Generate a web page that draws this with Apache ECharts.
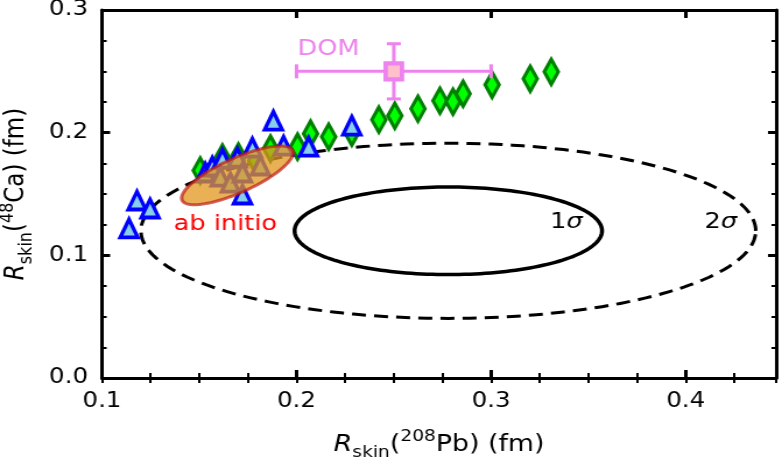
<!DOCTYPE html>
<html>
<head>
<meta charset="utf-8">
<script src="https://cdn.jsdelivr.net/npm/echarts@6/dist/echarts.min.js"></script>
<style>
  html, body { margin: 0; padding: 0; background: #fff; overflow: hidden; }
  /* the reference figure is stretched horizontally, so draw narrower and stretch */
  #chart { width: 671px; height: 460px; transform: scaleX(1.1654); transform-origin: 0 0; }
</style>
</head>
<body>
<div id="chart"></div>
<script>
// diamonds (green) : [Rskin(208Pb), Rskin(48Ca)]
const diamondPoints = [
  [0.1505, 0.1691], [0.1619, 0.1797], [0.1701, 0.1805], [0.1789, 0.1772],
  [0.1866, 0.1870], [0.2005, 0.1886], [0.2072, 0.1992], [0.2165, 0.1967],
  [0.2284, 0.2000], [0.2423, 0.2106], [0.2505, 0.2138], [0.2624, 0.2195],
  [0.2737, 0.2260], [0.2804, 0.2252], [0.2856, 0.2317], [0.3005, 0.2390],
  [0.3201, 0.2439], [0.3309, 0.2496]
];
// triangles (blue)
const trianglePoints = [
  [0.1139, 0.1220], [0.1180, 0.1447], [0.1247, 0.1382], [0.1531, 0.1675],
  [0.1567, 0.1724], [0.1619, 0.1789], [0.1608, 0.1642], [0.1660, 0.1593],
  [0.1696, 0.1797], [0.1722, 0.1675], [0.1722, 0.1496], [0.1773, 0.1878],
  [0.1814, 0.1732], [0.1881, 0.2098], [0.1933, 0.1894], [0.2062, 0.1886],
  [0.2284, 0.2057]
];
// DOM point: x, y, xerr, yerr
const domPoint = [[0.25, 0.25, 0.05, 0.0225]];
// ellipses: center x, center y, semi-diameter u (x, y), conjugate v (x, y)
const sigma1 = [[0.278, 0.12, 0.079, 0, 0, 0.0357]];
const sigma2 = [[0.278, 0.12, 0.158, 0, 0, 0.0714]];
const abInitio = [[0.1696, 0.1652, 0.0284, 0.0203, -0.0037, 0.0127]];
// text annotations: x, y, text
const notes = [
  [0.2005, 0.268, 'DOM'],
  [0.1634, 0.125, 'ab initio'],
  [0.3387, 0.1268, '1{s|σ}'],
  [0.418, 0.1268, '2{s|σ}']
];
const xTicks = [0.1, 0.2, 0.3, 0.4];
const yTicks = [0.0, 0.1, 0.2, 0.3];

const FONT = 'DejaVu Sans';
const TXT = 22;
const xMin = 0.1, xMax = 0.4465, yMin = 0, yMax = 0.3;

function ellipseRenderer(style) {
  return function (params, api) {
    const cx = api.value(0), cy = api.value(1);
    const ux = api.value(2), uy = api.value(3), vx = api.value(4), vy = api.value(5);
    const pts = [];
    for (let k = 0; k < 180; k++) {
      const t = 2 * Math.PI * k / 180;
      pts.push(api.coord([cx + ux * Math.cos(t) + vx * Math.sin(t),
                          cy + uy * Math.cos(t) + vy * Math.sin(t)]));
    }
    return { type: 'polygon', shape: { points: pts }, style: style };
  };
}

const noteStyles = {
  'DOM': { fill: '#ee82ee', align: 'left' },
  'ab initio': { fill: '#ff0000', align: 'center' }
};

const nameRich = {
  i: { fontStyle: 'italic', fontSize: 23, lineHeight: 32 },
  n: { fontSize: 23, lineHeight: 32 },
  sub: { fontSize: 16, verticalAlign: 'bottom' },
  sup: { fontSize: 16, verticalAlign: 'top' }
};

const majorX = (pos) => ({
  type: 'value', position: pos, min: xMin, max: xMax, interval: 0.1,
  axisLine: { show: true, onZero: false, lineStyle: { color: '#000', width: 3 } },
  axisTick: { show: true, inside: true, length: 8, lineStyle: { color: '#000', width: 3 } },
  splitLine: { show: false },
  axisLabel: pos === 'bottom' ? {
    show: true, showMaxLabel: false, margin: 13, fontSize: 21, fontFamily: FONT, color: '#000',
    formatter: v => xTicks.some(t => Math.abs(t - v) < 1e-9) ? v.toFixed(1) : ''
  } : { show: false }
});
const minorX = (pos) => ({
  type: 'value', position: pos, min: xMin, max: xMax, interval: 0.025,
  axisLine: { show: false },
  axisTick: { show: true, inside: true, length: 5, lineStyle: { color: '#000', width: 2 } },
  splitLine: { show: false },
  axisLabel: { show: false }
});
const yAx = (pos) => ({
  type: 'value', position: pos, min: yMin, max: yMax, interval: 0.1,
  axisLine: { show: true, onZero: false, lineStyle: { color: '#000', width: 3 } },
  axisTick: { show: true, inside: true, length: 7, lineStyle: { color: '#000', width: 3 } },
  minorTick: { show: true, splitNumber: 4, length: 4, lineStyle: { color: '#000', width: 2 } },
  splitLine: { show: false },
  minorSplitLine: { show: false },
  axisLabel: pos === 'left' ? {
    show: true, margin: 12, fontSize: 21, fontFamily: FONT, color: '#000',
    formatter: v => v.toFixed(1)
  } : { show: false }
});

const xBottom = majorX('bottom');
xBottom.name = '{i|R}{sub|skin}{n|(}{sup|208}{n|Pb) (fm)}';
xBottom.nameLocation = 'middle';
xBottom.nameGap = 51;
xBottom.nameTextStyle = { fontSize: 23, fontFamily: FONT, color: '#000', rich: nameRich };

const yLeft = yAx('left');
yLeft.name = '{i|R}{sub|skin}{n|(}{sup|48}{n|Ca) (fm)}';
yLeft.nameLocation = 'middle';
yLeft.nameGap = 57;
yLeft.nameTextStyle = { fontSize: 23, fontFamily: FONT, color: '#000', rich: nameRich };

const chart = echarts.init(document.getElementById('chart'), null, { renderer: 'canvas' });

const option = {
  backgroundColor: '#ffffff',
  animation: false,
  grid: { left: 87.5, right: 5, top: 10, bottom: 82, containLabel: false, outerBoundsMode: 'none' },
  xAxis: [xBottom, minorX('bottom'), majorX('top'), minorX('top')],
  yAxis: [yLeft, yAx('right')],
  series: [
    {
      type: 'custom', name: '2sigma', data: sigma2, encode: { x: 0, y: 1 }, z: 1,
      renderItem: ellipseRenderer({ fill: 'none', stroke: '#000', lineWidth: 3, lineDash: [12, 7] })
    },
    {
      type: 'custom', name: '1sigma', data: sigma1, encode: { x: 0, y: 1 }, z: 1,
      renderItem: ellipseRenderer({ fill: 'none', stroke: '#000', lineWidth: 3.5 })
    },
    {
      type: 'scatter', name: 'diamonds', data: diamondPoints, z: 3,
      symbol: 'diamond', symbolSize: [12, 25],
      itemStyle: { color: '#00ff00', borderColor: '#008000', borderWidth: 3.5, opacity: 1 }
    },
    {
      type: 'scatter', name: 'triangles', data: trianglePoints, z: 4,
      symbol: 'triangle', symbolSize: [15, 18],
      itemStyle: { color: '#87ceeb', borderColor: '#0000ff', borderWidth: 3.5, opacity: 1 }
    },
    {
      type: 'custom', name: 'ab initio', data: abInitio, encode: { x: 0, y: 1 }, z: 5,
      renderItem: ellipseRenderer({ fill: 'rgba(225,149,28,0.75)', stroke: 'rgba(190,30,20,0.7)', lineWidth: 3 })
    },
    {
      type: 'custom', name: 'DOM err', data: domPoint, encode: { x: 0, y: 1 }, z: 6,
      renderItem: function (params, api) {
        const x = api.value(0), y = api.value(1), ex = api.value(2), ey = api.value(3);
        const l = api.coord([x - ex, y]), r = api.coord([x + ex, y]);
        const t = api.coord([x, y + ey]), b = api.coord([x, y - ey]);
        const st = { stroke: '#ee82ee', lineWidth: 3 };
        const cv = 7, ch = 6;
        return {
          type: 'group', children: [
            { type: 'line', shape: { x1: l[0], y1: l[1], x2: r[0], y2: r[1] }, style: st },
            { type: 'line', shape: { x1: t[0], y1: t[1], x2: b[0], y2: b[1] }, style: st },
            { type: 'line', shape: { x1: l[0], y1: l[1] - cv, x2: l[0], y2: l[1] + cv }, style: st },
            { type: 'line', shape: { x1: r[0], y1: r[1] - cv, x2: r[0], y2: r[1] + cv }, style: st },
            { type: 'line', shape: { x1: t[0] - ch, y1: t[1], x2: t[0] + ch, y2: t[1] }, style: st },
            { type: 'line', shape: { x1: b[0] - ch, y1: b[1], x2: b[0] + ch, y2: b[1] }, style: st }
          ]
        };
      }
    },
    {
      type: 'scatter', name: 'DOM', data: domPoint.map(d => [d[0], d[1]]), z: 7,
      symbol: 'rect', symbolSize: [14, 16],
      itemStyle: { color: '#ffc0cb', borderColor: '#ee82ee', borderWidth: 4, opacity: 1 }
    },
    {
      type: 'custom', name: 'notes', data: notes, encode: { x: 0, y: 1 }, z: 8,
      renderItem: function (params, api) {
        const d = notes[params.dataIndex];
        const p = api.coord([d[0], d[1]]);
        const s = noteStyles[d[2]] || { fill: '#000', align: 'center' };
        return {
          type: 'text', x: p[0], y: p[1],
          style: {
            text: d[2], fill: s.fill, align: s.align, verticalAlign: 'middle',
            fontSize: TXT, fontFamily: FONT,
            rich: { s: { fontStyle: 'italic', fontSize: TXT, fontFamily: FONT, fill: '#000' } }
          }
        };
      }
    }
  ]
};

chart.setOption(option);
</script>
</body>
</html>
